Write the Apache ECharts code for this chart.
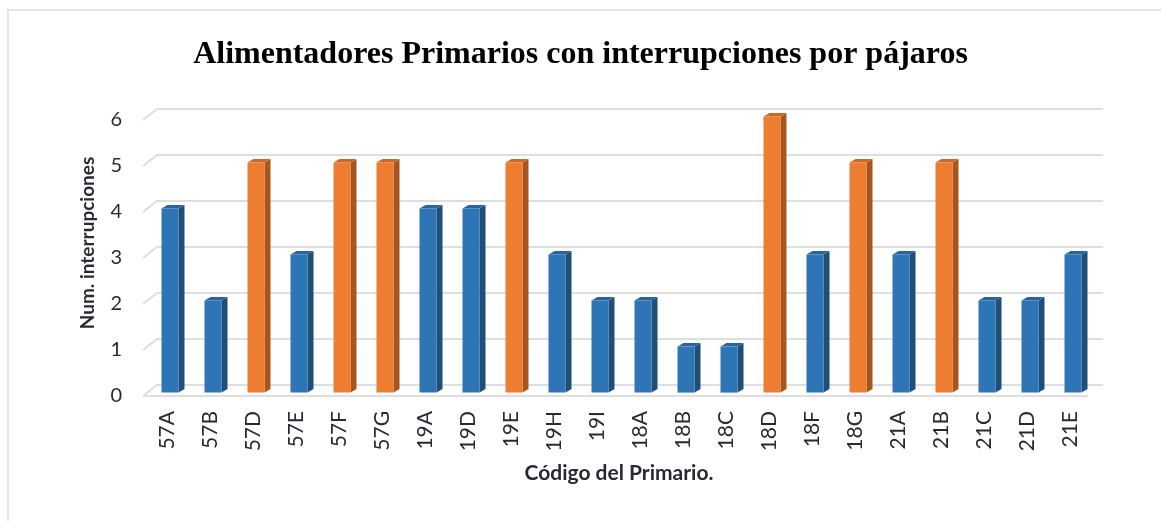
<!DOCTYPE html>
<html>
<head>
<meta charset="utf-8">
<style>
  html, body { margin: 0; padding: 0; background: #fff; }
  #chart { width: 1161px; height: 521px; }
</style>
<script src="https://cdn.jsdelivr.net/npm/echarts@6/dist/echarts.min.js"></script>
</head>
<body>
<div id="chart"></div>
<script>
var categories = ['57A', '57B', '57D', '57E', '57F', '57G', '19A', '19D', '19E', '19H', '19I',
    '18A', '18B', '18C', '18D', '18F', '18G', '21A', '21B', '21C', '21D', '21E']
var interrupciones = [4, 2, 5, 3, 5, 5, 4, 4, 5, 3, 2, 2, 1, 1, 6, 3, 5, 3, 5, 2, 2, 3]
var yTicks = [0, 1, 2, 3, 4, 5, 6]
var umbral = 5 // desde este valor la barra va en naranja

var chart = echarts.init(document.getElementById('chart'))

var azul = { front: '#2e75b6', side: '#1f4e79', top: '#28659e' }
var naranja = { front: '#ed7d31', side: '#a9561e', top: '#c9692a' }

// profundidad del "3D"
var wallDx = 14, wallDy = 11
var barDx = 6, barDy = 3.5, barW = 17, barLift = 3.4

var option = {
    animation: false,
    title: {
        text: 'Alimentadores Primarios con interrupciones por pájaros',
        left: 'center',
        top: 34,
        textStyle: {
            fontFamily: 'Liberation Serif',
            fontWeight: 'bold',
            fontSize: 32,
            color: '#000',
        },
    },
    graphic: [{
        type: 'rect',
        shape: { x: 8, y: 10, width: 1200, height: 600 },
        style: { fill: 'none', stroke: '#d9dbe0', lineWidth: 1.5 },
        silent: true,
    }],
    grid: { left: 146, right: 69, top: 120, bottom: 125 },
    xAxis: {
        type: 'category',
        data: categories,
        axisLine: { show: false },
        axisTick: { show: false },
        axisLabel: {
            rotate: 90,
            margin: 15,
            fontFamily: 'Lato',
            fontSize: 21,
            color: '#262b33',
        },
        name: 'Código del Primario.',
        nameLocation: 'middle',
        nameGap: 67,
        nameTextStyle: {
            fontFamily: 'Lato',
            fontWeight: 'bold',
            fontSize: 21,
            color: '#262b33',
        },
    },
    yAxis: {
        type: 'value',
        min: 0,
        max: 6,
        interval: 1,
        splitLine: { show: false },
        axisLine: { show: false },
        axisTick: { show: false },
        axisLabel: {
            margin: 24,
            fontFamily: 'Lato',
            fontSize: 20,
            color: '#262b33',
        },
        name: 'Num. interrupciones',
        nameLocation: 'middle',
        nameGap: 49,
        nameTextStyle: {
            fontFamily: 'Lato',
            fontWeight: 'bold',
            fontSize: 19,
            color: '#262b33',
            padding: [0, 0, 0, 30],
        },
    },
    series: [
        {
            // lineas de la pared del fondo y piso
            type: 'custom',
            z: 1,
            silent: true,
            data: yTicks.map(function (v) { return [0, v] }),
            renderItem: function (params, api) {
                var cs = params.coordSys
                var y = api.coord([0, api.value(1)])[1]
                var x0 = cs.x - 3
                var x1 = cs.x + cs.width + 11
                var children = [{
                    type: 'polyline',
                    shape: { points: [[x0, y], [x0 + wallDx, y - wallDy], [x1, y - wallDy]] },
                    style: { stroke: '#dcdee3', lineWidth: 2, fill: 'none' },
                }]
                if (api.value(1) === 0) {
                    children.push({
                        type: 'line',
                        shape: { x1: x0, y1: y, x2: cs.x + cs.width - 4, y2: y },
                        style: { stroke: '#dcdee3', lineWidth: 2 },
                    })
                }
                return { type: 'group', children: children }
            },
        },
        {
            type: 'custom',
            z: 2,
            data: interrupciones.map(function (v, i) { return [i, v] }),
            renderItem: function (params, api) {
                var v = api.value(1)
                var base = api.coord([api.value(0), 0])
                var top = api.coord([api.value(0), v])
                var c = v >= umbral ? naranja : azul
                var x0 = base[0] - 6
                var x1 = x0 + barW
                var yB = base[1] - barLift
                var yT = top[1] - barLift
                return {
                    type: 'group',
                    children: [
                        {
                            type: 'polygon',
                            shape: { points: [[x1, yT], [x1 + barDx, yT - barDy], [x1 + barDx, yB - barDy], [x1, yB]] },
                            style: { fill: c.side },
                        },
                        {
                            type: 'polygon',
                            shape: { points: [[x0, yT], [x0 + barDx, yT - barDy], [x1 + barDx, yT - barDy], [x1, yT]] },
                            style: { fill: c.top },
                        },
                        {
                            type: 'rect',
                            shape: { x: x0, y: yT, width: barW, height: yB - yT },
                            style: { fill: c.front },
                        },
                    ],
                }
            },
        },
    ],
}

chart.setOption(option)
</script>
</body>
</html>
